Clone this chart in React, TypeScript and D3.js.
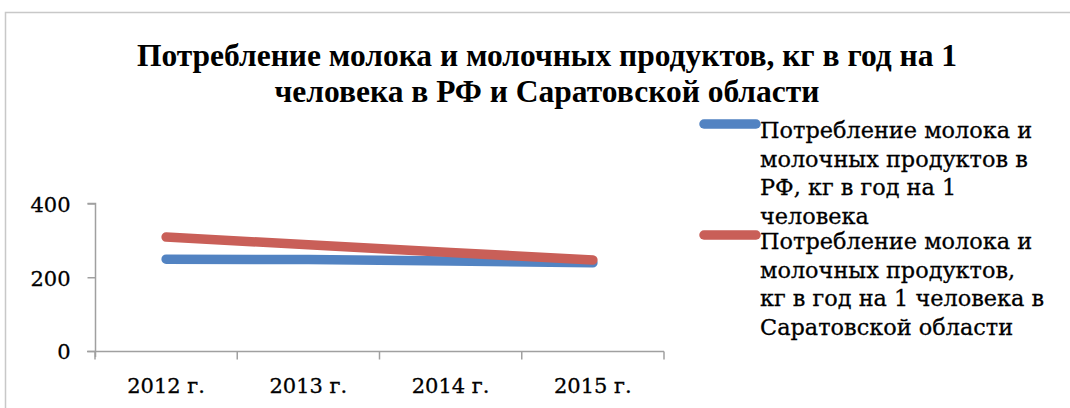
import React, { useEffect, useRef } from 'react';
import * as d3 from 'd3';

const years = ['2012 г.', '2013 г.', '2014 г.', '2015 г.'];
const russia = [249, 248, 244, 239];
const saratov = [309, 288, 267, 247];
const yTicks = [0, 200, 400];

const titleLines = [
  'Потребление молока и молочных продуктов, кг в год на 1',
  'человека в РФ и Саратовской области',
];
const legendRussia = ['Потребление молока и', 'молочных продуктов в', 'РФ, кг в год на 1', 'человека'];
const legendSaratov = ['Потребление молока и', 'молочных продуктов,', 'кг в год на 1 человека в', 'Саратовской области'];

export default function App() {
  const ref = useRef<SVGSVGElement>(null);

  useEffect(() => {
    const svg = d3.select(ref.current);
    svg.selectAll('*').remove();

    const width = 1070;
    const height = 408;
    const labelFont = '"DejaVu Serif", serif';
    const axisColor = '#a0a0a0';

    // outer frame (cut off at the right and bottom)
    svg.append('rect')
      .attr('x', 5.5).attr('y', 12.5)
      .attr('width', width + 20).attr('height', height + 20)
      .attr('fill', '#fff').attr('stroke', '#c8c8c8').attr('stroke-width', 1.5);

    /* Scales */
    const x = d3.scaleBand().domain(years).range([95, 664]);
    const y = d3.scaleLinear().domain([0, 400]).range([351, 203.5]);

    /* Title */
    svg.append('g')
      .selectAll('text')
      .data(titleLines).enter()
      .append('text')
      .attr('x', 547)
      .attr('y', (d, i) => 66 + i * 36)
      .attr('text-anchor', 'middle')
      .attr('font-family', '"Liberation Serif", serif')
      .attr('font-weight', 'bold')
      .attr('font-size', 31.5)
      .attr('fill', '#000')
      .text(d => d);

    /* Axes */
    const yAxis = d3.axisLeft(y).tickValues(yTicks).tickSize(8).tickFormat(d3.format('d'));
    const gy = svg.append('g').attr('transform', 'translate(95.5,0)').call(yAxis);
    const xAxis = d3.axisBottom(x).tickSize(8).tickSizeOuter(8);
    const gx = svg.append('g').attr('transform', 'translate(0,351.5)').call(xAxis);

    [gx, gy].forEach(g => {
      g.selectAll('path, line').attr('stroke', axisColor).attr('stroke-width', 1.5);
      g.selectAll('text')
        .attr('font-family', labelFont)
        .attr('font-size', 21)
        .attr('fill', '#000')
        .attr('stroke', '#000')
        .attr('stroke-width', 0.3);
    });
    gy.selectAll('.domain').attr('d', `M-8,${y(400)}H0V${y(0) + 6}`);
    gy.selectAll('text').attr('x', -25).attr('dy', '0.38em');
    // x tick lines go on band edges
    gx.selectAll('.tick line').remove();
    const edges = years.map(yr => x(yr) as number).concat([664]);
    gx.selectAll('.edge')
      .data(edges).enter()
      .append('line')
      .attr('x1', d => d).attr('x2', d => d)
      .attr('y1', 0).attr('y2', 8)
      .attr('stroke', axisColor).attr('stroke-width', 1.5);
    gx.selectAll('.domain').attr('d', `M${87},0H664`);
    gx.selectAll('.tick text').attr('y', 34).attr('dy', '0.35em');

    /* Lines */
    const line = d3.line<number>()
      .x((d, i) => (x(years[i]) as number) + x.bandwidth() / 2)
      .y(d => y(d));

    const series = [
      { values: russia, color: '#5283c2', legend: legendRussia, ly: 124 },
      { values: saratov, color: '#c95f58', legend: legendSaratov, ly: 235 },
    ];

    series.forEach(s => {
      svg.append('path')
        .attr('d', line(s.values))
        .attr('fill', 'none')
        .attr('stroke', s.color)
        .attr('stroke-width', 9.5)
        .attr('stroke-linecap', 'round')
        .attr('stroke-linejoin', 'round');
    });

    /* Legend */
    series.forEach(s => {
      const g = svg.append('g');
      g.append('line')
        .attr('x1', 704).attr('x2', 756)
        .attr('y1', s.ly).attr('y2', s.ly)
        .attr('stroke', s.color)
        .attr('stroke-width', 9.5)
        .attr('stroke-linecap', 'round');
      g.selectAll('text')
        .data(s.legend).enter()
        .append('text')
        .attr('x', 760)
        .attr('y', (d, i) => s.ly + 14 + i * 28.5)
        .attr('font-family', labelFont)
        .attr('font-size', 22.4)
        .attr('fill', '#000')
        .attr('stroke', '#000')
        .attr('stroke-width', 0.3)
        .text(d => d);
    });
  }, []);

  return (
    <svg ref={ref} width={1070} height={408}
      style={{ position: 'absolute', left: 0, top: 0, background: '#fff' }} />
  );
}
